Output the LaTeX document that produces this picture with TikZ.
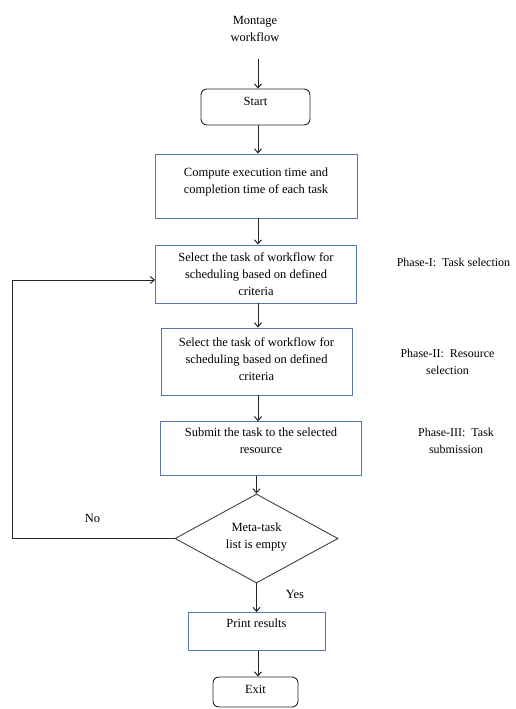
\documentclass[tikz,border=0pt]{standalone}
\usepackage{fontspec}
\setmainfont{Liberation Serif}
\usetikzlibrary{shapes.geometric,arrows.meta}
\definecolor{boxblue}{RGB}{84,120,175}
\newcommand{\boxlines}[1]{\begin{tabular}{@{}c@{}}#1\end{tabular}}

\begin{document}
\begin{tikzpicture}[x=1pt,y=-1pt,
  font=\fontsize{12.5}{17}\selectfont,
  blockbox/.style={draw=boxblue,line width=0.9pt,inner sep=0pt},
  endbox/.style={draw=black!85,line width=0.9pt,rounded corners=6pt,inner sep=0pt},
  phase/.style={font=\fontsize{12}{17}\selectfont},
  flow/.style={draw=black!85,line width=1pt,-{Straight Barb[length=4pt,width=7pt]}}]
\useasboundingbox (0,0) rectangle (516,709);

\coordinate (axis) at (258,0);

\node (title) at (255,30) {\boxlines{Montage\\workflow}};
\node[endbox,minimum width=109pt,minimum height=36pt,text height=0pt,text depth=3.8pt] (start) at (255.5,107) {\boxlines{Start}};

\node[blockbox,minimum width=202pt,minimum height=64pt,text height=0pt,text depth=2.8pt] (compute) at (256,186) {\boxlines{Compute execution time and\\completion time of each task}};
\node[blockbox,minimum width=201pt,minimum height=58pt,text height=8.4pt,text depth=0pt] (select1) at (256,274) {\boxlines{Select the task of workflow for\\scheduling based on defined\\criteria}};
\node[blockbox,minimum width=191pt,minimum height=67pt,text height=2.6pt,text depth=0pt] (select2) at (256.5,361.5) {\boxlines{Select the task of workflow for\\scheduling based on defined\\criteria}};
\node[blockbox,minimum width=201pt,minimum height=54pt,text height=0pt,text depth=8.2pt] (submit) at (261,448.7) {\boxlines{Submit the task to the selected\\resource}};

\node[diamond,draw=black!75,line width=0.9pt,minimum width=163pt,minimum height=89pt,inner sep=0pt,text height=2.2pt,text depth=0pt] (check) at (256.5,538.5) {\boxlines{Meta-task\\list is empty}};

\node[blockbox,minimum width=137pt,minimum height=37.5pt,text height=0pt,text depth=8.4pt] (print) at (256.5,631.3) {\boxlines{Print results}};
\node[endbox,minimum width=85pt,minimum height=30pt,text height=2.2pt,text depth=0pt] (exit) at (255.5,692) {\boxlines{Exit}};

% phases
\node[phase] (phase1) at (453.5,263) {\boxlines{Phase-I:\ \ Task selection}};
\node[phase] (phase2) at (447.5,362.5) {\boxlines{Phase-II:\ \ Resource\\selection}};
\node[phase] (phase3) at (456,441.5) {\boxlines{Phase-III:\ \ Task\\submission}};

\node (no) at (92.5,519) {\boxlines{No}};
\node (yes) at (295,595) {\boxlines{Yes}};

\draw[flow] ([yshift=-8pt]title.south -| axis) -- (start.north -| axis);
\draw[flow] (start.south -| axis) -- (compute.north -| axis);
\draw[flow] (compute.south -| axis) -- (select1.north -| axis);
\draw[flow] (select1.south -| axis) -- (select2.north -| axis);
\draw[flow] (select2.south -| axis) -- (submit.north -| axis);
\draw[flow] (submit.south -| check) -- (check.north);
\draw[flow] (check.south) -- (print.north -| check);
\draw[flow] (print.south -| axis) -- (exit.north -| axis);

% loop back
\coordinate (bend) at (12,538.5);
\draw[flow] (check.west) -- (bend) |- ([yshift=-6pt]select1.west);

\end{tikzpicture}
\end{document}
